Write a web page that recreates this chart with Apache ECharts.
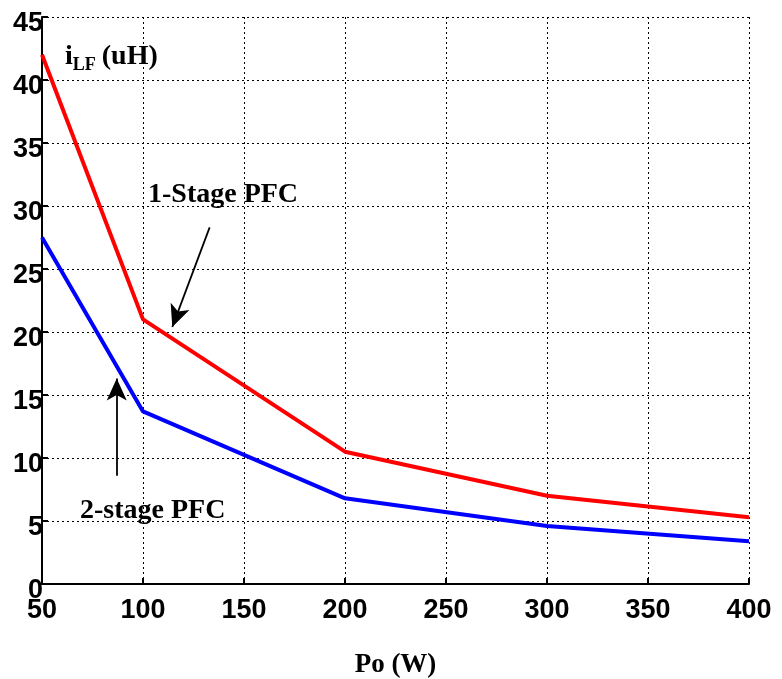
<!DOCTYPE html>
<html><head><meta charset="utf-8">
<script src="https://cdn.jsdelivr.net/npm/echarts@6/dist/echarts.min.js"></script>
<style>html,body{margin:0;padding:0;background:#fff}#c{width:782px;height:679px}</style>
</head><body><div id="c"></div>
<script>
const xValues = [50, 100, 200, 300, 400];
const oneStage = [42, 21, 10.5, 7, 5.3];
const twoStage = [27.5, 13.7, 6.8, 4.6, 3.4];
const xTicks = [50, 100, 150, 200, 250, 300, 350, 400];
const yTicks = [0, 5, 10, 15, 20, 25, 30, 35, 40, 45];
const arrow1 = [[133, 28.3], [114.5, 20.4]];
const arrow2 = [[87, 8.6], [87, 16.3]];

const chart = echarts.init(document.getElementById('c'));
const tickFont = {fontFamily: 'Liberation Sans, Arial, sans-serif', fontWeight: 'bold', fontSize: 27, color: '#000'};
const annFont = 'Liberation Serif, Times New Roman, serif';
chart.setOption({
  animation: false,
  grid: {left: 42, right: 33, top: 17, bottom: 95, containLabel: false, outerBoundsMode: 'none'},
  xAxis: {
    type: 'value', min: xTicks[0], max: xTicks[xTicks.length-1], interval: 50,
    axisLine: {show: true, lineStyle: {color: '#000', width: 2}},
    axisTick: {show: true, inside: true, length: 6, lineStyle: {color: '#000', width: 2}},
    axisLabel: Object.assign({margin: 13}, tickFont),
    splitLine: {show: true, lineStyle: {color: '#000', type: [2, 3], width: 1}},
    name: 'Po (W)', nameLocation: 'middle', nameGap: 68,
    nameTextStyle: {fontFamily: annFont, fontWeight: 'bold', fontSize: 27, color: '#000'}
  },
  yAxis: {
    type: 'value', min: yTicks[0], max: yTicks[yTicks.length-1], interval: 5,
    axisLine: {show: true, lineStyle: {color: '#000', width: 2}},
    axisTick: {show: true, inside: true, length: 6, lineStyle: {color: '#000', width: 2}},
    axisLabel: Object.assign({margin: -1, formatter: '{v|{value}}',
      rich: {v: Object.assign({padding: [13, 0, 0, 0]}, tickFont)}}, tickFont),
    splitLine: {show: true, lineStyle: {color: '#000', type: [2, 3], width: 1}}
  },
  graphic: [
    {type: 'text', left: 65, top: 43, style: {
      text: '{a|i}{b|LF}{a|(uH)}',
      rich: {
        a: {fontFamily: annFont, fontWeight: 'bold', fontSize: 28, fill: '#000'},
        b: {fontFamily: annFont, fontWeight: 'bold', fontSize: 18, fill: '#000', padding: [16, 6, 0, 0]}
      }}},
    {type: 'text', left: 148, top: 181, style: {text: '1-Stage PFC', fontFamily: annFont, fontWeight: 'bold', fontSize: 28, fill: '#000'}},
    {type: 'text', left: 80, top: 497, style: {text: '2-stage PFC', fontFamily: annFont, fontWeight: 'bold', fontSize: 28, fill: '#000'}}
  ],
  series: [
    {type: 'line', data: xValues.map((x, i) => [x, oneStage[i]]), symbol: 'none',
     lineStyle: {color: '#ff0000', width: 4}, z: 3,
     markLine: {silent: true, symbol: ['none', 'arrow'], symbolSize: [15, 22], label: {show: false},
       lineStyle: {color: '#000', width: 1.8, type: 'solid'},
       data: [[{coord: arrow1[0]}, {coord: arrow1[1]}], [{coord: arrow2[0]}, {coord: arrow2[1]}]]}},
    {type: 'line', data: xValues.map((x, i) => [x, twoStage[i]]), symbol: 'none',
     lineStyle: {color: '#0000ff', width: 4}, z: 3}
  ]
});
</script></body></html>
